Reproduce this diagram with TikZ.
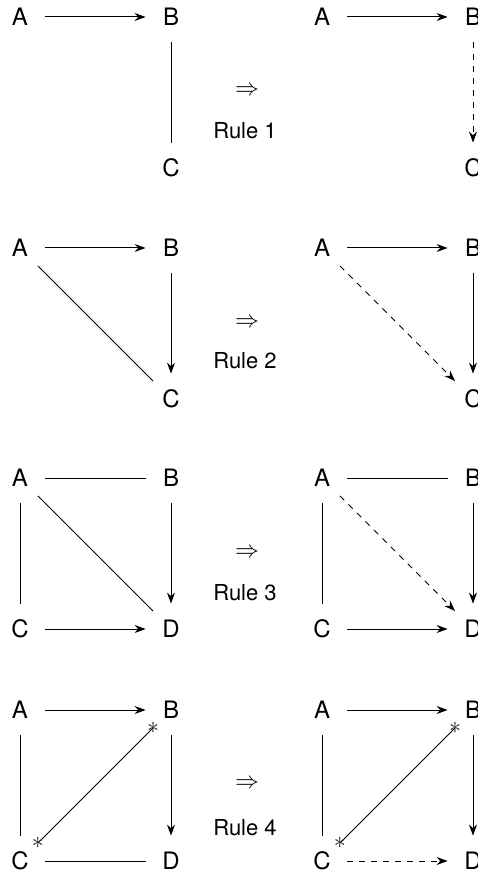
\documentclass[tikz,border=0pt]{standalone}
\usepackage{fontspec}
\setmainfont{TeX Gyre Heros}
\usetikzlibrary{arrows.meta}
\begin{document}
\begin{tikzpicture}[x=0.5pt,y=-0.5pt,
  v/.style={circle,minimum size=25pt,inner sep=0pt,font=\fontsize{12}{14}\selectfont},
  e/.style={line width=0.5pt},
  ar/.style={e,-{Stealth[length=5.5pt,width=4pt,inset=1.8pt]}},
  dar/.style={ar,dashed},
  rl/.style={inner sep=0pt,font=\fontsize{11}{13}\selectfont},
  imp/.style={inner sep=0pt,font=\fontsize{11.5}{13}\selectfont},
  star/.style={inner sep=0pt,font=\fontsize{13}{15}\selectfont,text=black!85}]
\useasboundingbox (0,0) rectangle (477,876);
% Row 1
\begin{scope}[shift={(0,17)}]
  \node[v] (a1) at (20,0) {A};
  \node[v] (b1) at (171,0) {B};
  \node[v] (c1) at (171,151) {C};
  \node[v] (ra1) at (322,0) {A};
  \node[v] (rb1) at (473,0) {B};
  \node[v] (rc1) at (473,151) {C};
  \node[imp] (i1) at (247,74) {$\Rightarrow$};
  \node[rl] (r1) at (245,114) {Rule 1};
  \draw[ar] (a1) -- (b1);
  \draw[e] (b1) -- (c1);
  \draw[ar] (ra1) -- (rb1);
  \draw[dar] (rb1) -- (rc1);
\end{scope}
% Row 2
\begin{scope}[shift={(0,248)}]
  \node[v] (a2) at (20,0) {A};
  \node[v] (b2) at (171,0) {B};
  \node[v] (c2) at (171,151) {C};
  \node[v] (ra2) at (322,0) {A};
  \node[v] (rb2) at (473,0) {B};
  \node[v] (rc2) at (473,151) {C};
  \node[imp] (i2) at (247,75) {$\Rightarrow$};
  \node[rl] (r2) at (245,113) {Rule 2};
  \draw[ar] (a2) -- (b2);
  \draw[e] (a2) -- (c2);
  \draw[ar] (b2) -- (c2);
  \draw[ar] (ra2) -- (rb2);
  \draw[dar] (ra2) -- (rc2);
  \draw[ar] (rb2) -- (rc2);
\end{scope}
% Row 3
\begin{scope}[shift={(0,478)}]
  \node[v] (a3) at (20,0) {A};
  \node[v] (b3) at (171,0) {B};
  \node[v] (c3) at (20,151) {C};
  \node[v] (d3) at (171,151) {D};
  \node[v] (ra3) at (322,0) {A};
  \node[v] (rb3) at (473,0) {B};
  \node[v] (rc3) at (322,151) {C};
  \node[v] (rd3) at (473,151) {D};
  \node[imp] (i3) at (247,75) {$\Rightarrow$};
  \node[rl] (r3) at (245,115) {Rule 3};
  \draw[e] (a3) -- (b3);
  \draw[e] (a3) -- (c3);
  \draw[e] (a3) -- (d3);
  \draw[ar] (b3) -- (d3);
  \draw[ar] (c3) -- (d3);
  \draw[e] (ra3) -- (rb3);
  \draw[e] (ra3) -- (rc3);
  \draw[dar] (ra3) -- (rd3);
  \draw[ar] (rb3) -- (rd3);
  \draw[ar] (rc3) -- (rd3);
\end{scope}
% Row 4
\begin{scope}[shift={(0,710)}]
  \node[v] (a4) at (20,0) {A};
  \node[v] (b4) at (171,0) {B};
  \node[v] (c4) at (20,151) {C};
  \node[v] (d4) at (171,151) {D};
  \node[v] (ra4) at (322,0) {A};
  \node[v] (rb4) at (473,0) {B};
  \node[v] (rc4) at (322,151) {C};
  \node[v] (rd4) at (473,151) {D};
  \node[imp] (i4) at (247,74) {$\Rightarrow$};
  \node[rl] (r4) at (245,118) {Rule 4};
  \draw[ar] (a4) -- (b4);
  \draw[e] (a4) -- (c4);
  \draw[e] (c4) -- node[star,at start]{$\ast$} node[star,at end]{$\ast$} (b4);
  \draw[ar] (b4) -- (d4);
  \draw[e] (c4) -- (d4);
  \draw[ar] (ra4) -- (rb4);
  \draw[e] (ra4) -- (rc4);
  \draw[e] (rc4) -- node[star,at start]{$\ast$} node[star,at end]{$\ast$} (rb4);
  \draw[ar] (rb4) -- (rd4);
  \draw[dar] (rc4) -- (rd4);
\end{scope}
\end{tikzpicture}
\end{document}
